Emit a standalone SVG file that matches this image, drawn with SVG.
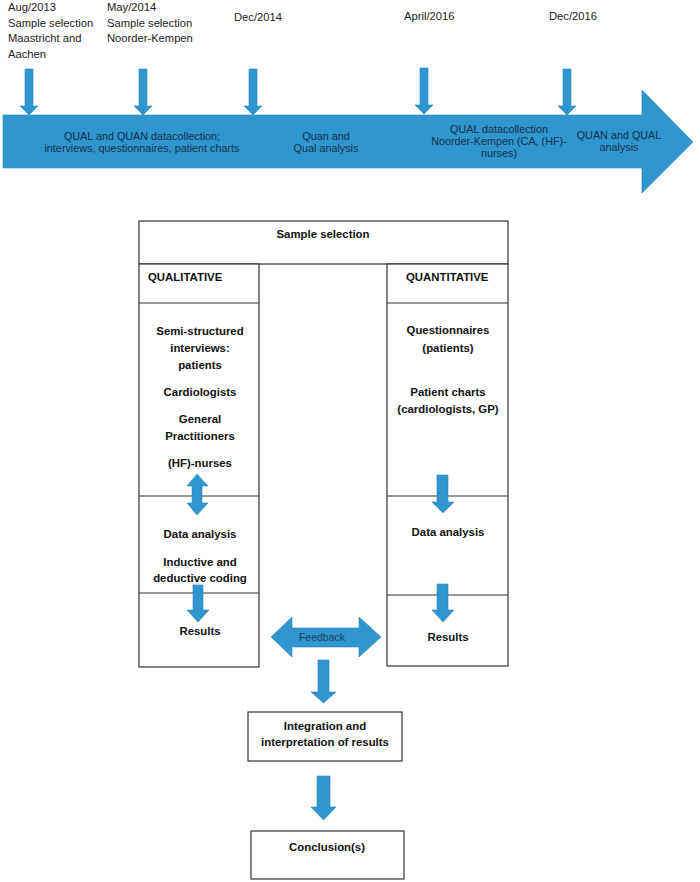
<svg xmlns="http://www.w3.org/2000/svg" width="700" height="882" viewBox="0 0 700 882">
<style>
  .bg{fill:#ffffff}
  .arrow{fill:#2f96d0;stroke:#2a86bb;stroke-width:0.6}
  .box{fill:#ffffff;stroke:#333333;stroke-width:1.2}
  .line{stroke:#333333;stroke-width:1.2;fill:none}
  .t{font-family:"Liberation Sans",Arial,sans-serif;font-size:11.2px;fill:#222222}
  .ta{font-family:"Liberation Sans",Arial,sans-serif;font-size:10.8px;fill:#15304a;text-anchor:middle}
  .b{font-family:"Liberation Sans",Arial,sans-serif;font-size:11.4px;font-weight:bold;fill:#111111}
  .c{text-anchor:middle}
  .fb{font-family:"Liberation Sans",Arial,sans-serif;font-size:10.5px;fill:#1c3f66;text-anchor:middle}
</style>
<rect class="bg" x="0" y="0" width="700" height="882"/>

<g id="timeline">
  <path class="arrow" d="M3,115 H642 V90 L693,142 L642,193 V168 H3 Z"/>
  <text class="ta" x="142" y="140">QUAL and QUAN datacollection;</text>
  <text class="ta" x="142" y="152">interviews, questionnaires, patient charts</text>
  <text class="ta" x="326" y="140">Quan and</text>
  <text class="ta" x="326" y="152">Qual analysis</text>
  <text class="ta" x="499" y="133">QUAL datacollection</text>
  <text class="ta" x="499" y="145">Noorder-Kempen (CA, (HF)-</text>
  <text class="ta" x="499" y="157">nurses)</text>
  <text class="ta" x="619" y="139">QUAN and QUAL</text>
  <text class="ta" x="619" y="151">analysis</text>
</g>

<g id="milestone-aug2013">
  <text class="t" x="8" y="11">Aug/2013</text>
  <text class="t" x="8" y="27">Sample selection</text>
  <text class="t" x="8" y="42">Maastricht and</text>
  <text class="t" x="8" y="58">Aachen</text>
  <path class="arrow" d="M25,69 H33 V106 H38 L29,115 L20,106 H25 Z"/>
</g>
<g id="milestone-may2014">
  <text class="t" x="107" y="11">May/2014</text>
  <text class="t" x="107" y="27">Sample selection</text>
  <text class="t" x="107" y="42">Noorder-Kempen</text>
  <path class="arrow" d="M139,69 H147 V106 H152 L143,115 L134,106 H139 Z"/>
</g>
<g id="milestone-dec2014">
  <text class="t" x="234" y="21">Dec/2014</text>
  <path class="arrow" d="M249,69 H257 V106 H262 L253,115 L244,106 H249 Z"/>
</g>
<g id="milestone-apr2016">
  <text class="t" x="404" y="20">April/2016</text>
  <path class="arrow" d="M420,68 H428 V105 H433 L424,114 L415,105 H420 Z"/>
</g>
<g id="milestone-dec2016">
  <text class="t" x="549" y="20">Dec/2016</text>
  <path class="arrow" d="M563,69 H571 V106 H576 L567,115 L558,106 H563 Z"/>
</g>

<g id="sample-selection">
  <rect class="box" x="139" y="221" width="369" height="43"/>
  <text class="b c" x="323" y="238">Sample selection</text>
</g>

<g id="qualitative">
  <rect class="box" x="139" y="264" width="120" height="403"/>
  <line class="line" x1="139" y1="303" x2="259" y2="303"/>
  <line class="line" x1="139" y1="496" x2="259" y2="496"/>
  <line class="line" x1="139" y1="593" x2="259" y2="593"/>
  <text class="b" x="148" y="281">QUALITATIVE</text>
  <text class="b c" x="200" y="335">Semi-structured</text>
  <text class="b c" x="200" y="352">interviews:</text>
  <text class="b c" x="200" y="369">patients</text>
  <text class="b c" x="200" y="396">Cardiologists</text>
  <text class="b c" x="200" y="423">General</text>
  <text class="b c" x="200" y="440">Practitioners</text>
  <text class="b c" x="200" y="467">(HF)-nurses</text>
  <text class="b c" x="200" y="538">Data analysis</text>
  <text class="b c" x="200" y="566">Inductive and</text>
  <text class="b c" x="200" y="582">deductive coding</text>
  <text class="b c" x="200" y="635">Results</text>
</g>

<g id="quantitative">
  <rect class="box" x="387" y="264" width="121" height="402"/>
  <line class="line" x1="387" y1="303" x2="508" y2="303"/>
  <line class="line" x1="387" y1="496" x2="508" y2="496"/>
  <line class="line" x1="387" y1="595" x2="508" y2="595"/>
  <text class="b" x="406" y="281">QUANTITATIVE</text>
  <text class="b c" x="448" y="334">Questionnaires</text>
  <text class="b c" x="448" y="352">(patients)</text>
  <text class="b c" x="448" y="396">Patient charts</text>
  <text class="b c" x="448" y="413">(cardiologists, GP)</text>
  <text class="b c" x="448" y="536">Data analysis</text>
  <text class="b c" x="448" y="641">Results</text>
</g>

<g id="integration">
  <rect class="box" x="248" y="712" width="154" height="49"/>
  <text class="b c" x="325" y="730">Integration and</text>
  <text class="b c" x="325" y="746">interpretation of results</text>
</g>

<g id="conclusion">
  <rect class="box" x="251" y="831" width="153" height="48"/>
  <text class="b c" x="327" y="851">Conclusion(s)</text>
</g>

<g id="connectors">
  <path class="arrow" d="M197,474 L208,486 H202 V503 H208 L197,515 L187,503 H192 V486 H187 Z"/>
  <path class="arrow" d="M193,585 H203 V610 H209 L198,622 L187,610 H193 Z"/>
  <path class="arrow" d="M437,475 H448 V502 H454 L443,513 L432,502 H437 Z"/>
  <path class="arrow" d="M437,584 H448 V610 H454 L443,622 L432,610 H437 Z"/>
  <path class="arrow" d="M271,637 L292,617 V628 H359 V617 L381,637 L359,657 V647 H292 V657 Z"/>
  <text class="fb" x="322" y="641">Feedback</text>
  <path class="arrow" d="M318,660 H329 V692 H336 L323.5,703 L311,692 H318 Z"/>
  <path class="arrow" d="M317,776 H330 V807 H336 L323.5,820 L311,807 H317 Z"/>
</g>
</svg>
